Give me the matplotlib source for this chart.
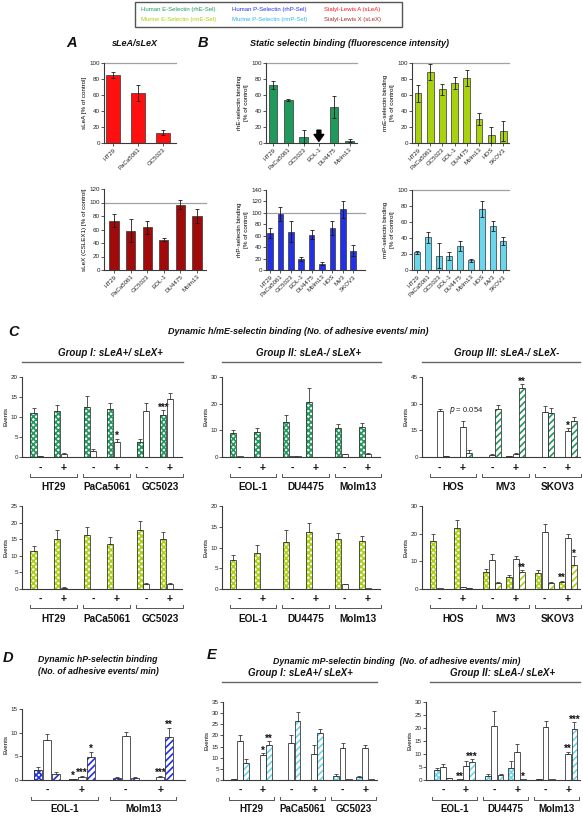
import numpy as np
import matplotlib
matplotlib.use('Agg')
import matplotlib.pyplot as plt
from matplotlib.patches import Rectangle
from matplotlib.lines import Line2D

plt.rcParams['font.family'] = ['Liberation Sans', 'DejaVu Sans']
plt.rcParams['hatch.linewidth'] = 1.2

W, H = 583, 816
fig = plt.figure(figsize=(W / 100, H / 100), dpi=100)

# ---------------- colours ----------------
C_HE = '#1f9a5c'
C_ME = '#a8d20e'
C_HP = '#2230e8'
C_MP = '#6ad6ec'
C_SLEA = '#ff1010'
C_SLEX = '#a00a0a'
AX_COL = '#3a3a3a'

# ---------------- data: static panels ----------------
sLeA_lines = ['HT29', 'PaCa5061', 'GC5023']
sLeA_vals = [85, 63, 13]
sLeA_err = [4, 10, 3]

sLeX_lines = ['HT29', 'PaCa5061', 'GC5023', 'EOL-1', 'DU4475', 'Molm13']
sLeX_vals = [73, 58, 63, 45, 97, 80]
sLeX_err = [10, 17, 9, 2, 7, 10]

rhE_lines = ['HT29', 'PaCa5061', 'GC5023', 'EOL-1', 'DU4475', 'Molm13']
rhE_vals = [73, 54, 8, 0, 45, 3]
rhE_err = [5, 1.5, 8, 0, 14, 2]

rmE_lines = ['HT29', 'PaCa5061', 'GC5023', 'EOL-1', 'DU4475', 'Molm13', 'HOS', 'SKOV3']
rmE_vals = [62, 89, 67, 75, 81, 30, 10, 15]
rmE_err = [11, 10, 7, 8, 10, 8, 10, 13]

P_lines = ['HT29', 'PaCa5061', 'GC5023', 'EOL-1', 'DU4475', 'Molm13', 'HOS', 'MV3', 'SKOV3']
rhP_vals = [65, 98, 67, 19, 62, 11, 74, 106, 34]
rhP_err = [9, 12, 18, 3, 8, 3, 12, 15, 10]
rmP_vals = [22, 41, 18, 18, 30, 12, 76, 55, 36]
rmP_err = [1.5, 7, 16, 5, 6, 1.5, 10, 6, 5]

# ---------------- data: dynamic panels ----------------
# per cell line: [checked -, white -, striped -, checked +, white +, striped +]
conditions = ['-', '+']
groupI_lines = ['HT29', 'PaCa5061', 'GC5023']
groupII_lines = ['EOL-1', 'DU4475', 'Molm13']
groupIII_lines = ['HOS', 'MV3', 'SKOV3']
D_lines = ['EOL-1', 'Molm13']

hE_I_vals = [[11, 0.2, 0, 11.4, 0.8, 0], [12.5, 1.6, 0, 12, 3.8, 0], [3.7, 11.4, 0, 10.5, 14.5, 0]]
hE_I_err = [[1.3, 0.05, 0, 1.5, 0.3, 0], [2.7, 0.3, 0, 1.4, 0.8, 0], [0.7, 2, 0, 1.2, 1.5, 0]]
hE_I_sig = [['', '', '', '', '', ''], ['', '', '', '', '*', ''], ['', '', '', '***', '', '']]

hE_II_vals = [[9, 0.2, 0, 9.4, 0, 0], [13.3, 0.2, 0.2, 20.5, 0, 0], [11, 1, 0, 11.3, 1.2, 0]]
hE_II_err = [[1.2, 0, 0, 1.6, 0, 0], [2.3, 0, 0, 5.2, 0, 0], [1.2, 0.2, 0, 1.4, 0.2, 0]]
hE_II_sig = [['', '', '', '', '', ''], ['', '', '', '', '', ''], ['', '', '', '', '', '']]

hE_III_vals = [[0, 26, 0.3, 0, 17, 2.5], [0, 1.2, 27, 0.6, 1.8, 39], [0, 25.5, 24.5, 0, 14.5, 20]]
hE_III_err = [[0, 1.2, 0.1, 0, 3.5, 1.2], [0, 0.3, 2.5, 0.2, 0.6, 2], [0, 3, 3, 0, 1.8, 2.3]]
hE_III_sig = [['', '', '', '', '', ''], ['', '', '', '', '', '**'], ['', '', '', '', '*', '']]

mE_I_vals = [[11.3, 0, 0, 15.2, 0.4, 0], [16.3, 0, 0, 13.5, 0, 0], [17.8, 1.4, 0, 15.1, 1.6, 0]]
mE_I_err = [[1.8, 0, 0, 2.6, 0.1, 0], [2.4, 0, 0, 2.2, 0, 0], [2.6, 0.3, 0, 2.2, 0.3, 0]]
mE_I_sig = [['', '', '', '', '', ''], ['', '', '', '', '', ''], ['', '', '', '', '', '']]

mE_II_vals = [[7, 0, 0, 8.7, 0, 0], [11.4, 0, 0, 13.8, 0, 0], [12, 1.1, 0, 11.5, 0.2, 0]]
mE_II_err = [[1.2, 0, 0, 1.8, 0, 0], [2.8, 0, 0, 2, 0, 0], [1.5, 0.2, 0, 1.3, 0, 0]]
mE_II_sig = [['', '', '', '', '', ''], ['', '', '', '', '', ''], ['', '', '', '', '', '']]

mE_III_vals = [[17.5, 0.2, 0, 22, 0.8, 0.4], [6, 10.5, 2, 4.3, 10.7, 6.2], [5.8, 20.5, 2, 2.6, 18.3, 8.8]]
mE_III_err = [[2.3, 0, 0, 3, 0.1, 0.1], [1.3, 2.3, 0.7, 0.8, 1.3, 0.5], [1, 3, 0.5, 0.4, 1.5, 3]]
mE_III_sig = [['', '', '', '', '', ''], ['', '', '', '', '', '**'], ['', '', '', '**', '', '*']]

hP_vals = [[2.2, 8.5, 1.3, 0.2, 0.6, 4.9], [0.5, 9.3, 0.5, 0, 0.7, 9]]
hP_err = [[0.6, 1.2, 0.4, 0.05, 0.2, 1], [0.2, 0.9, 0.2, 0, 0.2, 2]]
hP_sig = [['', '', '', '*', '***', '*'], ['', '', '', '', '***', '**']]

mP_I_vals = [[0.4, 17.3, 7.5, 0.2, 11, 15.5], [0, 16.7, 26.5, 0.2, 11.7, 21], [2, 14.5, 0.3, 1.3, 14.3, 0.3]]
mP_I_err = [[0.1, 2.8, 1.7, 0, 1.1, 1.8], [0, 3.6, 4, 0, 4.2, 2], [0.8, 2.3, 0, 0.3, 1.5, 0]]
mP_I_sig = [['', '', '', '', '*', '**'], ['', '', '', '', '', ''], ['', '', '', '', '', '']]

mP_II_vals = [[3.8, 5, 0.7, 0.2, 5.2, 7], [1.6, 20.8, 1.8, 4.5, 10.9, 0.2], [0.4, 20.4, 0.2, 0, 10, 19.5]]
mP_II_err = [[1, 1.2, 0.1, 0, 2, 1], [0.8, 5.6, 0.7, 2.7, 2.8, 0], [0.1, 2.2, 0, 0, 0.8, 2.7]]
mP_II_sig = [['', '', '', '**', '', '***'], ['', '', '', '', '', '*'], ['', '', '', '', '**', '***']]


# ---------------- helpers ----------------
def add_ax(x0, y0, x1, y1):
    return fig.add_axes([x0 / W, 1 - y1 / H, (x1 - x0) / W, (y1 - y0) / H])


def style(ax):
    for s in ['top', 'right']:
        ax.spines[s].set_visible(False)
    for s in ['left', 'bottom']:
        ax.spines[s].set_color(AX_COL)
        ax.spines[s].set_linewidth(0.8)
    ax.tick_params(axis='y', length=2, width=0.6, color=AX_COL, labelsize=4.5, pad=1,
                   labelcolor='#222')


def ftext(x, y, s, **kw):
    fig.text(x / W, 1 - y / H, s, **kw)


def fline(x0, x1, y, **kw):
    fig.add_artist(Line2D([x0 / W, x1 / W], [1 - y / H, 1 - y / H], **kw))


def static_panel(box, labels, vals, errs, color, ymax, ylabel, first_px, step_px):
    ax = add_ax(*box)
    style(ax)
    x = np.arange(len(labels))
    ax.bar(x, vals, 0.55, color=color, edgecolor='#333333', linewidth=0.5, zorder=2)
    v = np.array(vals, float)
    e = np.array(errs, float)
    m = e > 0
    ax.errorbar(x[m], v[m], yerr=e[m], fmt='none', ecolor='#1a1a1a', elinewidth=0.6,
                capsize=1.6, capthick=0.6, zorder=3)
    left = -(first_px - box[0]) / step_px
    ax.set_xlim(left, left + (box[2] - box[0]) / step_px)
    ax.set_ylim(0, ymax)
    ax.set_yticks(np.arange(0, ymax + 1, 20))
    ax.set_xticks(x, labels, rotation=45, ha='right', rotation_mode='anchor', fontsize=4.4)
    ax.tick_params(axis='x', length=2, width=0.6, color=AX_COL, pad=1, labelcolor='#222')
    ax.axhline(100, color='#a0a0a0', lw=0.9, clip_on=False, zorder=1)
    ax.set_ylabel(ylabel, fontsize=4.5, labelpad=2, linespacing=1.3)
    return ax


def dyn_panel(box, lines, vals, errs, sigs, color, ymax, ystep, geom, ypx, name_fs=7.2):
    x0, c_off, l_off, w, xmax, br_l, br_r = geom
    y_pm, y_br, y_name = ypx
    ax = add_ax(*box)
    style(ax)
    hatches = ['xxxxxx', None, '/////']
    ticks = []
    trans = ax.get_xaxis_transform()
    fy = lambda ypix: (box[3] - ypix) / (box[3] - box[1])
    for i in range(len(lines)):
        start = x0 + i * l_off
        for j in range(2):
            ticks.append(start + j * c_off + 1)
            for k in range(3):
                v = vals[i][3 * j + k]
                e = errs[i][3 * j + k]
                s = sigs[i][3 * j + k]
                xp = start + j * c_off + k
                if v > 0:
                    if hatches[k]:
                        ax.bar(xp, v, w, color='white', edgecolor=color, hatch=hatches[k],
                               linewidth=0, zorder=2)
                    else:
                        ax.bar(xp, v, w, color='white', linewidth=0, zorder=2)
                    ax.bar(xp, v, w, fill=False, edgecolor=AX_COL, linewidth=0.6, zorder=3)
                if e > 0:
                    ax.errorbar([xp], [v], yerr=[[0], [e]], fmt='none', ecolor=AX_COL,
                                elinewidth=0.6, capsize=1.5, capthick=0.6, zorder=4)
                if s:
                    ax.text(xp, v + e - 0.03 * ymax, s, ha='center', va='bottom',
                            fontsize=7, fontweight='bold', color='#111')
        # bracket + cell-line name
        bx0, bx1 = start + br_l, start + c_off + br_r
        ax.plot([bx0, bx0, bx1, bx1], [fy(y_br - 3), fy(y_br), fy(y_br), fy(y_br - 3)],
                transform=trans, color='#555', lw=0.7, clip_on=False)
        ax.text((bx0 + bx1) / 2, fy(y_name), lines[i], transform=trans, ha='center',
                va='center', fontsize=name_fs, fontweight='bold', color='#111')
    ax.set_xticks(ticks, conditions * len(lines), fontsize=7.5, fontweight='bold', va='center')
    ax.tick_params(axis='x', length=0, pad=(y_pm - box[3]) * 0.72, labelcolor='#111')
    ax.set_xlim(0, xmax)
    ax.set_ylim(0, ymax)
    ax.set_yticks(np.arange(0, ymax + 0.1, ystep))
    ax.set_ylabel('Events', fontsize=4.5, labelpad=2)
    return ax


# ---------------- legend box ----------------
fig.add_artist(Rectangle((135 / W, 1 - 27 / H), 267 / W, 25 / H, transform=fig.transFigure,
                         fill=False, edgecolor='#555555', lw=1))
leg = [('Human E-Selectin (rhE-Sel)', C_HE, 141, 10), ('Murine E-Selectin (rmE-Sel)', C_ME, 141, 20),
       ('Human P-Selectin (rhP-Sel)', C_HP, 232, 10), ('Murine P-Selectin (rmP-Sel)', '#2fb4ee', 232, 20),
       ('Sialyl-Lewis A (sLeA)', C_SLEA, 324, 10), ('Sialyl-Lewis X (sLeX)', '#a52a2a', 324, 20)]
for s, c, x, y in leg:
    ftext(x, y, s, color=c, fontsize=4.3, va='center', ha='left')

# ---------------- panel titles ----------------
bi = dict(fontweight='bold', fontstyle='italic', color='#111')
ftext(66, 43, 'A', fontsize=10.5, va='center', **bi)
ftext(112, 43, 'sLeA/sLeX', fontsize=6.5, va='center', **bi)
ftext(198, 43, 'B', fontsize=10.5, va='center', **bi)
ftext(250, 43, 'Static selectin binding (fluorescence intensity)', fontsize=6.5, va='center', **bi)

# ---------------- panel A & B ----------------
static_panel((104, 63, 176, 143), sLeA_lines, sLeA_vals, sLeA_err, C_SLEA, 100,
             'sLeA [% of control]', 113, 25)
static_panel((104, 189, 206, 270), sLeX_lines, sLeX_vals, sLeX_err, C_SLEX, 120,
             'sLeX (CSLEX1) [% of control]', 114, 16.6)
axE = static_panel((266, 63, 357, 143), rhE_lines, rhE_vals, rhE_err, C_HE, 100,
                   'rhE-selectin binding\n[% of control]', 273, 15.3)
axE.annotate('', xy=(3, 2), xytext=(3, 16),
             arrowprops=dict(facecolor='black', edgecolor='black', width=2.8, headwidth=7,
                             headlength=5, shrink=0))
static_panel((412, 63, 509, 143), rmE_lines, rmE_vals, rmE_err, C_ME, 100,
             'rmE-selectin binding\n[% of control]', 418, 12.2)
static_panel((266, 190, 365, 270), P_lines, rhP_vals, rhP_err, C_HP, 140,
             'rhP-selectin binding\n[% of control]', 270, 10.4)
static_panel((412, 190, 509, 270), P_lines, rmP_vals, rmP_err, C_MP, 100,
             'rmP-selectin binding\n[% of control]', 417, 10.8)

# ---------------- panel C ----------------
ftext(8, 332, 'C', fontsize=10.5, va='center', **bi)
ftext(298, 332, 'Dynamic h/mE-selectin binding (No. of adhesive events/ min)', fontsize=6.5,
      ha='center', va='center', **bi)
for name, cx, x0, x1 in [('Group I: sLeA+/ sLeX+', 110, 22, 183),
                         ('Group II: sLeA-/ sLeX+', 309, 222, 381),
                         ('Group III: sLeA-/ sLeX-', 507, 422, 580)]:
    ftext(cx, 353, name, fontsize=7, ha='center', va='center', **bi)
    fline(x0, x1, 362, color='#666', lw=1)

geomC = (1.8, 3.7, 8.3, 0.95, 25.0, -0.55, 3.1)
r1 = (468, 477, 487)
r2 = (599, 608, 619)
dyn_panel((22, 377, 182, 457), groupI_lines, hE_I_vals, hE_I_err, hE_I_sig, C_HE, 20, 5, geomC, r1)
dyn_panel((222, 377, 380, 457), groupII_lines, hE_II_vals, hE_II_err, hE_II_sig, C_HE, 30, 10, geomC, r1)
ax3 = dyn_panel((422, 377, 580, 457), groupIII_lines, hE_III_vals, hE_III_err, hE_III_sig, C_HE, 45, 15,
                geomC, r1)
ax3.text(4.2, 26, '$\\it{p}$ = 0.054', fontsize=5.5, ha='left', va='center', color='#222')
dyn_panel((22, 506, 182, 589), groupI_lines, mE_I_vals, mE_I_err, mE_I_sig, C_ME, 25, 5, geomC, r2)
dyn_panel((222, 506, 380, 589), groupII_lines, mE_II_vals, mE_II_err, mE_II_sig, C_ME, 20, 5, geomC, r2)
dyn_panel((422, 506, 580, 589), groupIII_lines, mE_III_vals, mE_III_err, mE_III_sig, C_ME, 30, 10, geomC, r2)

# ---------------- panel D ----------------
ftext(3, 658, 'D', fontsize=10.5, va='center', **bi)
ftext(98, 660, 'Dynamic hP-selectin binding', fontsize=6.3, ha='center', va='center', **bi)
ftext(98, 671, '(No. of adhesive events/ min)', fontsize=6.3, ha='center', va='center', **bi)
geomD = (1.8, 3.83, 8.72, 0.9, 18.1, -0.75, 2.8)
dyn_panel((22, 709, 185, 780), D_lines, hP_vals, hP_err, hP_sig, C_HP, 15, 5, geomD, (790, 800, 809.5),
          name_fs=7)

# ---------------- panel E ----------------
ftext(207, 655, 'E', fontsize=10.5, va='center', **bi)
ftext(397, 662, 'Dynamic mP-selectin binding  (No. of adhesive events/ min)', fontsize=6.3,
      ha='center', va='center', **bi)
for name, cx, x0, x1 in [('Group I: sLeA+/ sLeX+', 300, 222, 377),
                         ('Group II: sLeA-/ sLeX+', 503, 430, 580)]:
    ftext(cx, 673, name, fontsize=7, ha='center', va='center', **bi)
    fline(x0, x1, 682, color='#666', lw=1)
geomE = (1.8, 3.7, 8.3, 0.95, 25.0, -0.8, 2.8)
dyn_panel((223, 702, 377, 780), groupI_lines, mP_I_vals, mP_I_err, mP_I_sig, C_MP, 35, 5, geomE,
          (790, 800, 809.5), name_fs=7)
dyn_panel((426, 702, 580, 780), groupII_lines, mP_II_vals, mP_II_err, mP_II_sig, C_MP, 30, 5, geomE,
          (790, 800, 809.5), name_fs=7)

fig.savefig('out.png', dpi=100)
